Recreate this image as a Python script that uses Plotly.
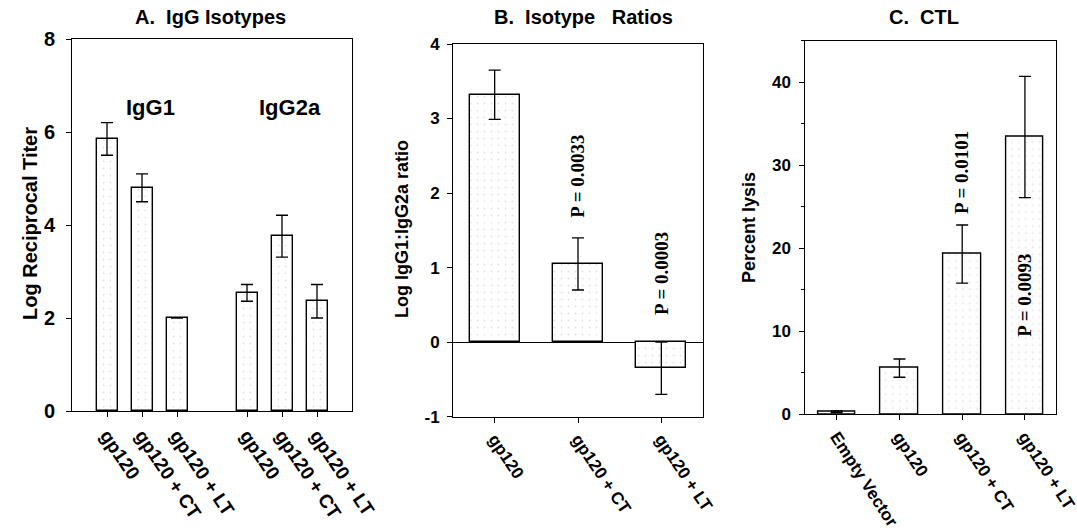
import plotly.graph_objects as go

# ---------------- data ----------------
a_labels = ["gp120", "gp120 + CT", "gp120 + LT"]
a_groups = ["IgG1", "IgG2a"]
igg1_vals = [5.85, 4.8, 2.0]
igg1_err = [0.35, 0.3, None]
igg2a_vals = [2.54, 3.76, 2.36]
igg2a_err = [0.18, 0.45, 0.36]

b_labels = ["gp120", "gp120 + CT", "gp120 + LT"]
b_vals = [3.32, 1.05, -0.35]
b_err = [0.33, 0.35, 0.35]
b_pvals = [None, "P = 0.0033", "P = 0.0003"]
b_pval_y = [None, 2.22, 0.92]
b_ticks = [-1, 0, 1, 2, 3, 4]
b_ticktext = ["-1", "0", "1", "2", "3", "4"]

c_labels = ["Empty Vector", "gp120", "gp120 + CT", "gp120 + LT"]
c_vals = [0.3, 5.56, 19.3, 33.4]
c_err = [0.1, 1.1, 3.5, 7.3]
c_pvals = [None, None, "P = 0.0101", "P = 0.0093"]
c_pval_y = [None, None, 29.1, 14.4]

W, H = 1077, 528
SANS = "Liberation Sans, Arial, sans-serif"
SERIF = "Liberation Serif, Times New Roman, serif"

def px_x(p):
    return p / W

def px_y(p):
    return (H - p) / H

bar_marker = dict(
    color="white",
    line=dict(color="black", width=1.4),
    pattern=dict(shape=".", fgcolor="#c4c4c4", bgcolor="white", size=7, solidity=0.05),
)
err_style = dict(type="data", color="black", thickness=1.3, width=6, visible=True)

fig = go.Figure()

# Panel A: positions computed from group / item index (gap of one slot between groups)
a_x1 = [i for i in range(len(a_labels))]
a_x2 = [len(a_labels) + 1 + i for i in range(len(a_labels))]
fig.add_trace(go.Bar(x=a_x1, y=igg1_vals, width=0.6, marker=bar_marker,
                     error_y=dict(array=igg1_err, **err_style), xaxis="x", yaxis="y",
                     showlegend=False))
fig.add_trace(go.Bar(x=a_x2, y=igg2a_vals, width=0.6, marker=bar_marker,
                     error_y=dict(array=igg2a_err, **err_style), xaxis="x", yaxis="y",
                     showlegend=False))

# Panel B
fig.add_trace(go.Bar(x=list(range(len(b_labels))), y=b_vals, width=0.6, marker=bar_marker,
                     error_y=dict(array=b_err, **err_style), xaxis="x2", yaxis="y2",
                     showlegend=False))

# Panel C
fig.add_trace(go.Bar(x=list(range(len(c_labels))), y=c_vals, width=0.6, marker=bar_marker,
                     error_y=dict(array=c_err, **err_style), xaxis="x3", yaxis="y3",
                     showlegend=False))

tickfont_xa = dict(family=SANS, size=19, color="black", weight="bold")
tickfont_xbc = dict(family=SANS, size=17, color="black", weight="bold")

common_axis = dict(showline=True, linecolor="black", linewidth=1, mirror=True,
                   ticks="outside", ticklen=5, tickcolor="black", showgrid=False,
                   zeroline=False, automargin=False, ticklabeloverflow="allow")

fig.update_layout(
    width=W, height=H,
    margin=dict(l=0, r=0, t=0, b=0),
    paper_bgcolor="white", plot_bgcolor="white",
    bargap=0,
    xaxis=dict(domain=[px_x(72), px_x(352)], range=[-1, 7],
               tickvals=a_x1 + a_x2, ticktext=a_labels + a_labels,
               tickangle=56, tickfont=tickfont_xa, anchor="y", **common_axis),
    yaxis=dict(domain=[px_y(411), px_y(39)], range=[0, 8], dtick=2,
               tickfont=dict(family=SANS, size=20, color="black", weight="bold"),
               ticklabelstandoff=7, anchor="x", **common_axis),
    xaxis2=dict(domain=[px_x(453), px_x(703)], range=[-0.5, 2.5],
                tickvals=list(range(len(b_labels))), ticktext=b_labels,
                tickangle=56, tickfont=tickfont_xbc, anchor="y2", **common_axis),
    yaxis2=dict(domain=[px_y(416.7), px_y(44)], range=[-1, 4],
                tickvals=b_ticks, ticktext=b_ticktext,
                tickfont=dict(family=SANS, size=17, color="black", weight="bold"),
                ticklabelstandoff=4, anchor="x2",
                **{**common_axis, "zeroline": True}, zerolinecolor="black", zerolinewidth=1),
    xaxis3=dict(domain=[px_x(805.3), px_x(1056.3)], range=[-0.5, 3.5],
                tickvals=list(range(len(c_labels))), ticktext=c_labels,
                tickangle=57, tickfont=tickfont_xbc, anchor="y3", **common_axis),
    yaxis3=dict(domain=[px_y(414.3), px_y(40.7)], range=[0, 45], dtick=10,
                tickfont=dict(family=SANS, size=17, color="black", weight="bold"),
                minor=dict(dtick=5, ticks="outside", ticklen=3, tickcolor="black"),
                ticklabelstandoff=5, anchor="x3", **common_axis),
)

ann = []
# panel titles
for txt, xc in [("A.  IgG Isotypes", 210), ("B.  Isotype   Ratios", 583), ("C.  CTL", 924)]:
    ann.append(dict(text=txt, x=px_x(xc), y=px_y(17), xref="paper", yref="paper",
                    showarrow=False, font=dict(family=SANS, size=20, color="black", weight="bold"),
                    xanchor="center", yanchor="middle"))
# y-axis titles
for txt, xc, yc, sz in [("Log Reciprocal Titer", 30, 224, 20),
                        ("Log IgG1:IgG2a ratio", 402, 229, 18),
                        ("Percent lysis", 749, 228, 18)]:
    ann.append(dict(text=txt, x=px_x(xc), y=px_y(yc), xref="paper", yref="paper",
                    showarrow=False, textangle=-90,
                    font=dict(family=SANS, size=sz, color="black", weight="bold"),
                    xanchor="center", yanchor="middle"))
# group labels in panel A
for g, xs in zip(a_groups, [a_x1, a_x2]):
    ann.append(dict(text=g, x=(xs[0] + xs[-1]) / 2 + 0.23, y=6.52, xref="x", yref="y",
                    showarrow=False, font=dict(family=SANS, size=22, color="black", weight="bold"),
                    xanchor="center", yanchor="middle"))
# p-values
for i, (p, yv) in enumerate(zip(b_pvals, b_pval_y)):
    if p:
        ann.append(dict(text=p, x=i, y=yv, xref="x2", yref="y2", showarrow=False,
                        textangle=-90, font=dict(family=SERIF, size=19, color="black", weight="bold"),
                        xanchor="center", yanchor="middle"))
for i, (p, yv) in enumerate(zip(c_pvals, c_pval_y)):
    if p:
        ann.append(dict(text=p, x=i, y=yv, xref="x3", yref="y3", showarrow=False,
                        textangle=-90, font=dict(family=SERIF, size=19, color="black", weight="bold"),
                        xanchor="center", yanchor="middle"))
fig.update_layout(annotations=ann)

fig.write_html("out.html")
